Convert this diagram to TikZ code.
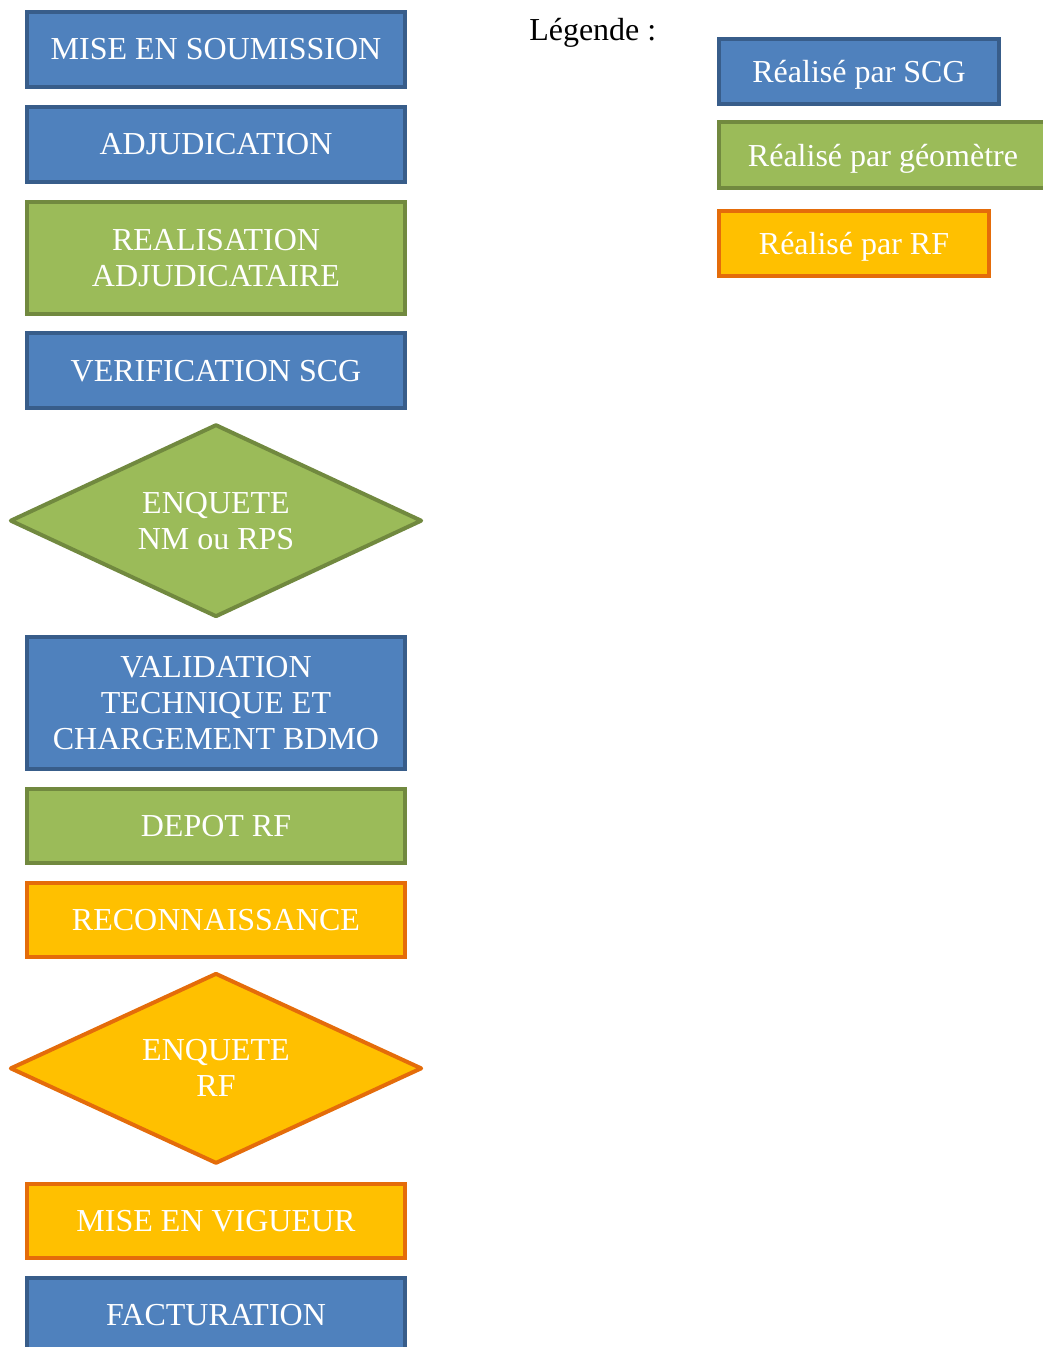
\documentclass[tikz,border=0pt]{standalone}
\usepackage{fontspec}
\setmainfont{Liberation Serif}
\usetikzlibrary{shapes.geometric,positioning}

\definecolor{scgfill}{HTML}{4F81BD}
\definecolor{scgline}{HTML}{385D8A}
\definecolor{geofill}{HTML}{9BBB59}
\definecolor{geoline}{HTML}{71893F}
\definecolor{rffill}{HTML}{FFC000}
\definecolor{rfline}{HTML}{E46C0A}

\begin{document}
\begin{tikzpicture}[x=0.75pt, y=-0.75pt, node distance=12pt,
    every node/.style={align=center, font=\fontsize{24}{27}\selectfont},
    bloc/.style={rectangle, line width=3pt, text=white, inner sep=0pt,
                 minimum width=283.5pt, minimum height=56.25pt},
    losange/.style={diamond, aspect=2.15, line width=3pt, line join=round, text=white, inner sep=0pt,
                    minimum width=309pt, minimum height=144.5pt},
    scg/.style={draw=scgline, fill=scgfill},
    geo/.style={draw=geoline, fill=geofill},
    rf/.style={draw=rfline, fill=rffill}]

\useasboundingbox (0,0) rectangle (1043,1347);

% etapes du dossier
\node[bloc, scg] (soumission) at (216,49.5) {MISE EN SOUMISSION};
\node[bloc, scg, below=of soumission] (adjudication) {ADJUDICATION};
\node[bloc, geo, below=of adjudication, minimum height=84pt] (realisation) {REALISATION\\ADJUDICATAIRE};
\node[bloc, scg, below=11.5pt of realisation] (verification) {VERIFICATION SCG};
\node[losange, geo, below=9pt of verification] (enquetenm) {ENQUETE\\NM ou RPS};
\node[bloc, scg, below=of enquetenm, minimum height=99pt] (validation) {VALIDATION\\TECHNIQUE ET\\CHARGEMENT BDMO};
\node[bloc, geo, below=of validation, minimum height=55.5pt] (depot) {DEPOT RF};
\node[bloc, rf, below=of depot, minimum height=55.5pt] (reconnaissance) {RECONNAISSANCE};
\node[losange, rf, below=9pt of reconnaissance, minimum height=143pt] (enqueterf) {ENQUETE\\RF};
\node[bloc, rf, below=of enqueterf, minimum height=55.5pt] (vigueur) {MISE EN VIGUEUR};
\node[bloc, scg, below=of vigueur] (facturation) {FACTURATION};

% legende
\node[anchor=base west, inner sep=0pt, text=black] (legende) at (529,40) {Légende :};
\node[bloc, scg, text depth=0pt, minimum width=210pt, minimum height=48.75pt] (legscg) at (859,71.5) {Réalisé par SCG};
\node[bloc, geo, text depth=0pt, minimum width=246pt, minimum height=49.5pt] (leggeo) at (883,155) {Réalisé par géomètre};
\node[bloc, rf, text depth=0pt, minimum width=202.5pt, minimum height=48.75pt] (legrf) at (854,243.5) {Réalisé par RF};
\end{tikzpicture}
\end{document}
